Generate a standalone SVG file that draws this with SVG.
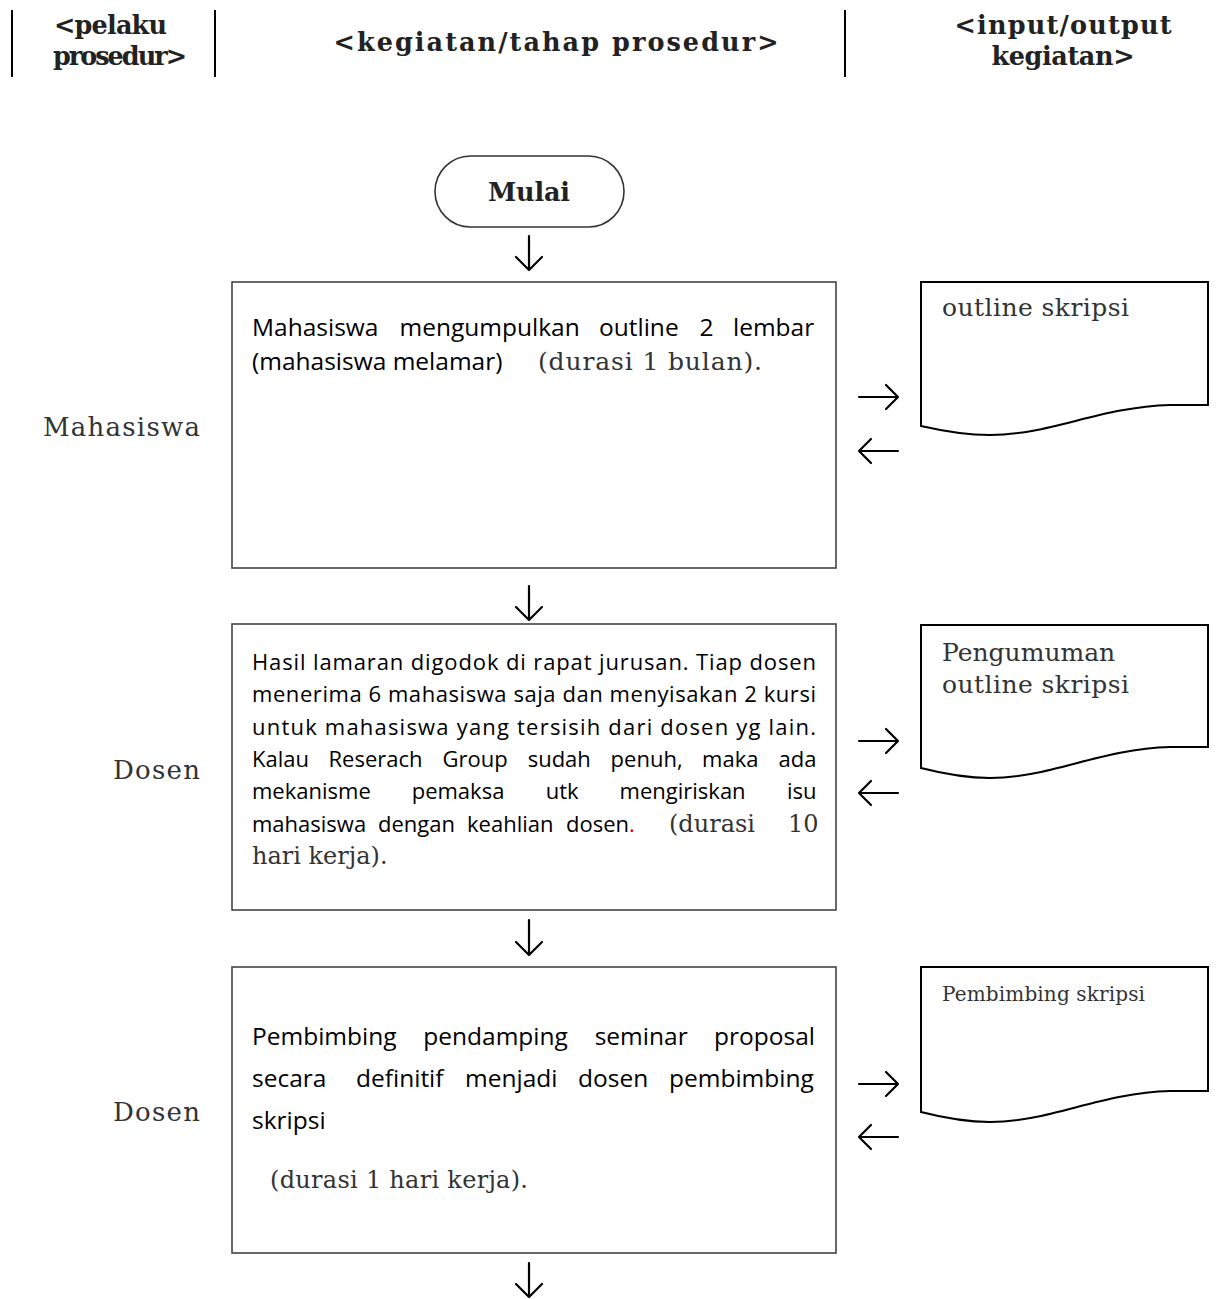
<svg xmlns="http://www.w3.org/2000/svg" width="1219" height="1299" viewBox="0 0 1219 1299">
<style>
.hdr{font-family:"DejaVu Serif","Liberation Serif",serif;font-weight:bold;font-size:25.5px;fill:#222;text-anchor:middle}
.hl{text-anchor:start}
.sans{font-family:"Open Sans","Liberation Sans",sans-serif;fill:#000}
.s25{font-size:24.5px}
.s22{font-size:22px}
.ser{font-family:"DejaVu Serif","Liberation Serif",serif;fill:#333}
.lbl{font-family:"DejaVu Serif","Liberation Serif",serif;fill:#333;font-size:26px;text-anchor:end}
.box{fill:#fff;stroke:#444;stroke-width:1.6}
.doc{fill:#fff;stroke:#000;stroke-width:2}
.vl{stroke:#000;stroke-width:2}
.arr{fill:none;stroke:#000;stroke-width:2.2;stroke-linecap:round;stroke-linejoin:round}
</style>
<g id="header">
<line class="vl" x1="12" y1="10" x2="12" y2="77"/>
<line class="vl" x1="215" y1="10" x2="215" y2="77"/>
<line class="vl" x1="845" y1="10" x2="845" y2="77"/>
<text class="hdr hl" x="54" y="34" textLength="113">&lt;pelaku</text>
<text class="hdr hl" x="53" y="65" textLength="134">prosedur&gt;</text>
<text class="hdr" x="556" y="51" textLength="445">&lt;kegiatan/tahap prosedur&gt;</text>
<text class="hdr" x="1063" y="34" textLength="217">&lt;input/output</text>
<text class="hdr" x="1063" y="65" textLength="143">kegiatan&gt;</text>
</g>
<g id="labels">
<text class="lbl" x="200" y="436" textLength="157">Mahasiswa</text>
<text class="lbl" x="200" y="779" textLength="87">Dosen</text>
<text class="lbl" x="200" y="1121" textLength="87">Dosen</text>
</g>
<g id="mulai">
<rect x="435" y="156" width="189" height="71" rx="35.5" fill="#fff" stroke="#333" stroke-width="1.6"/>
<text class="hdr" x="529" y="201" font-size="25" textLength="82">Mulai</text>
</g>
<g id="box1">
<rect class="box" x="232" y="282" width="604" height="286"/>
<text class="sans s25" y="336"><tspan x="252">Mahasiswa</tspan><tspan x="399.5">mengumpulkan</tspan><tspan x="599">outline</tspan><tspan x="699.5">2</tspan><tspan x="733">lembar</tspan></text>
<text class="sans s25" x="252" y="370">(mahasiswa melamar)</text>
<text class="ser" x="538" y="370" font-size="25" textLength="224">(durasi 1 bulan).</text>
</g>
<g id="doc1">
<path class="doc" d="M921,282 H1208 V405 H1170 C1100,407 1050,435 990,435 Q960,435 921,426 Z"/>
<text class="ser" x="942" y="316" font-size="25" textLength="187">outline skripsi</text>
</g>
<g id="box2">
<rect class="box" x="232" y="624" width="604" height="286"/>
<text class="sans s22" x="252" y="670" textLength="564">Hasil lamaran digodok di rapat jurusan. Tiap dosen</text>
<text class="sans s22" x="252" y="702" textLength="564">menerima 6 mahasiswa saja dan menyisakan 2 kursi</text>
<text class="sans s22" x="252" y="735" textLength="564">untuk mahasiswa yang tersisih dari dosen yg lain.</text>
<text class="sans s22" y="767"><tspan x="252">Kalau</tspan><tspan x="328.5">Reserach</tspan><tspan x="442.6">Group</tspan><tspan x="527.7">sudah</tspan><tspan x="610.6">penuh,</tspan><tspan x="702.1">maka</tspan><tspan x="778.6">ada</tspan></text>
<text class="sans s22" y="799"><tspan x="252">mekanisme</tspan><tspan x="411.7">pemaksa</tspan><tspan x="545.7">utk</tspan><tspan x="619.6">mengiriskan</tspan><tspan x="786.9">isu</tspan></text>
<text class="sans s22" y="832"><tspan x="252">mahasiswa</tspan><tspan x="378">dengan</tspan><tspan x="467">keahlian</tspan><tspan x="566">dosen</tspan><tspan fill="#e00000">.</tspan></text>
<text class="ser" y="832" font-size="24"><tspan x="669">(durasi</tspan><tspan x="788">10</tspan></text>
<text class="ser" x="252" y="864" font-size="24">hari kerja).</text>
</g>
<g id="doc2">
<path class="doc" d="M921,625 H1208 V747 H1170 C1100,749 1050,778 990,778 Q960,778 921,768 Z"/>
<text class="ser" x="942" y="661" font-size="25">Pengumuman</text>
<text class="ser" x="942" y="693" font-size="25" textLength="187">outline skripsi</text>
</g>
<g id="box3">
<rect class="box" x="232" y="967" width="604" height="286"/>
<text class="sans s25" y="1045"><tspan x="252">Pembimbing</tspan><tspan x="423.3">pendamping</tspan><tspan x="594.7">seminar</tspan><tspan x="714">proposal</tspan></text>
<text class="sans s25" y="1087"><tspan x="252">secara</tspan><tspan x="356">definitif</tspan><tspan x="465">menjadi</tspan><tspan x="578">dosen</tspan><tspan x="669">pembimbing</tspan></text>
<text class="sans s25" x="252" y="1129">skripsi</text>
<text class="ser" x="270" y="1188" font-size="24" textLength="258">(durasi 1 hari kerja).</text>
</g>
<g id="doc3">
<path class="doc" d="M921,967 H1208 V1091 H1170 C1100,1093 1050,1122 990,1122 Q960,1122 921,1112 Z"/>
<text class="ser" x="942" y="1001" font-size="20" textLength="203">Pembimbing skripsi</text>
</g>
<g id="connectors">
<path class="arr" d="M529,236 V270 M516,257 L529,270 L542,257"/>
<path class="arr" d="M529,586 V620 M516,607 L529,620 L542,607"/>
<path class="arr" d="M529,920 V955 M516,942 L529,955 L542,942"/>
<path class="arr" d="M529,1263 V1297 M516,1284 L529,1297 L542,1284"/>
<path class="arr" d="M859,397 H898 M886,385 L898,397 L886,409"/>
<path class="arr" d="M859,451 H898 M871,439 L859,451 L871,463"/>
<path class="arr" d="M859,741 H898 M886,729 L898,741 L886,753"/>
<path class="arr" d="M859,793 H898 M871,781 L859,793 L871,805"/>
<path class="arr" d="M859,1084 H898 M886,1072 L898,1084 L886,1096"/>
<path class="arr" d="M859,1137 H898 M871,1125 L859,1137 L871,1149"/>
</g>
</svg>
